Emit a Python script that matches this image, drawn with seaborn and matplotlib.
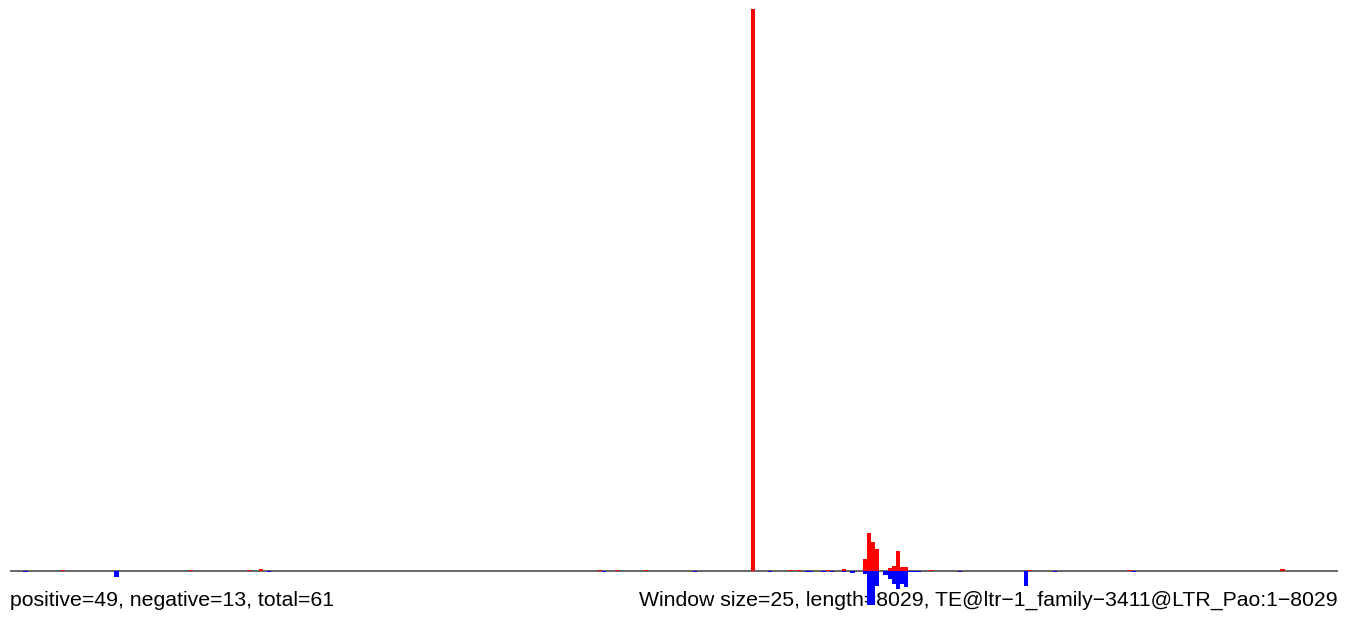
import numpy as np
import pandas as pd
import matplotlib
matplotlib.use('Agg')
import matplotlib.pyplot as plt
import seaborn as sns

# window settings
window_size = 25
te_length = 8029
te_name = 'TE@ltr\u22121_family\u22123411@LTR_Pao:1\u22128029'
n_pos, n_neg, n_total = 49, 13, 61

# positive strand signal per window (window index -> value)
pos_bins = [12, 43, 57, 60, 142, 146, 153, 179, 188, 190, 197, 201,
            206, 207, 208, 209, 212, 213, 214, 215, 216, 222, 246, 270, 307]
pos_vals = [0.05, 0.05, 0.05, 0.1, 0.05, 0.05, 0.05, 29.6, 0.05, 0.05, 0.05, 0.1,
            0.63, 2.0, 1.55, 1.18, 0.16, 0.26, 1.05, 0.21, 0.21, 0.05, 0.05, 0.05, 0.1]

# negative strand signal per window
neg_bins = [3, 25, 62, 143, 165, 183, 192, 193, 196, 198, 201, 203,
            206, 207, 208, 209, 211, 212, 213, 214, 215, 216, 217, 218, 219,
            229, 245, 252, 271]
neg_vals = [0.05, 0.32, 0.05, 0.05, 0.05, 0.05, 0.05, 0.05, 0.05, 0.05, 0.05, 0.1,
            0.16, 1.79, 1.79, 0.79, 0.21, 0.42, 0.68, 0.95, 0.68, 0.84, 0.05, 0.05, 0.05,
            0.05, 0.79, 0.05, 0.05]

sns.set_style('white')
plt.rcParams['font.family'] = ['Liberation Sans', 'DejaVu Sans']

n_bins = int(np.ceil(te_length / window_size))
df = pd.DataFrame({'bin': np.arange(n_bins), 'pos': 0.0, 'neg': 0.0})
df.loc[df['bin'].isin(pos_bins), 'pos'] = pd.Series(pos_vals, index=pos_bins)
df.loc[df['bin'].isin(neg_bins), 'neg'] = -pd.Series(neg_vals, index=neg_bins)

fig = plt.figure(figsize=(13.5, 6.18), dpi=100)
ax = fig.add_axes([10 / 1350, (618 - 605) / 618, 1328 / 1350, 596 / 618])

sns.barplot(data=df, x='bin', y='pos', native_scale=True, width=1,
            color='#ff0000', saturation=1, linewidth=0, ax=ax, zorder=3)
sns.barplot(data=df, x='bin', y='neg', native_scale=True, width=1,
            color='#0000ff', saturation=1, linewidth=0, ax=ax, zorder=3)
ax.axhline(0, color='#5a5a5a', lw=1.3, zorder=1)

ax.set_xlim(-0.74, -0.74 + te_length / window_size)
ax.set_ylim(-max(neg_vals), max(pos_vals))
ax.set_axis_off()
ax.set_zorder(5)
ax.patch.set_alpha(0)

# footer labels (bars are drawn above them, as in the original)
fig.text(10 / 1350, (618 - 606) / 618,
         f'positive={n_pos}, negative={n_neg}, total={n_total}',
         fontsize=15.3, color='black', ha='left', va='baseline')
fig.text(1338 / 1350, (618 - 606) / 618,
         f'Window size={window_size}, length={te_length}, {te_name}',
         fontsize=15.3, color='black', ha='right', va='baseline')

fig.savefig('out.png', dpi=100)
